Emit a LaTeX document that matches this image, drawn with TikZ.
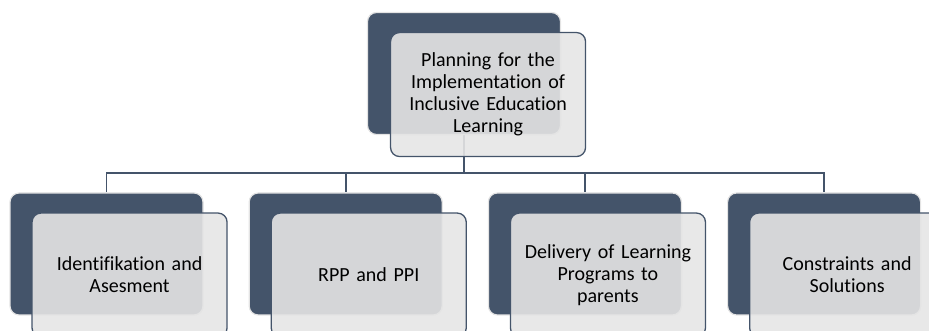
\documentclass[tikz,border=0pt]{standalone}
\usepackage{fontspec}
\setmainfont{Carlito}[Ligatures=NoCommon]
\usepackage{xcolor}
\usepackage{tikz}
\usetikzlibrary{positioning}
\usetikzlibrary{backgrounds}
\definecolor{slate}{HTML}{44546A}
\definecolor{paleframe}{HTML}{E4E4E4}
\definecolor{panel}{HTML}{E5E5E5}
\tikzset{
	backbox/.style={fill=slate, draw=paleframe, line width=1.2pt, rounded corners=9pt,
		minimum width=193pt, minimum height=122pt, inner sep=0pt},
	frontbox/.style={fill=panel, fill opacity=.9, text opacity=1, draw=slate, line width=1.3pt,
		rounded corners=9pt, minimum width=195pt, minimum height=124pt, inner sep=0pt,
		text width=190pt, align=center, font=\fontsize{20}{22}\selectfont},
	link/.style={draw=slate, line width=1.6pt}
}

\begin{document}
\begin{tikzpicture}[x=1pt, y=1pt]
\useasboundingbox (0,0) rectangle (929,331);

% back panels
\node (top) [backbox] at (464,257.5) {};
\node (d1) [backbox] at (106.5,77) {};
\node (d2) [backbox, right=45pt of d1] {};
\node (d3) [backbox, right=45pt of d2] {};
\node (d4) [backbox, right=45pt of d3] {};

% connectors
\coordinate [below=38pt of top] (bus);
\begin{scope}[on background layer]
\foreach \c in {d1,d2,d3,d4}
	\draw [link] (top.south) -- (bus) -| (\c.north);
\end{scope}

% front panels with the texts
\node (ttop) [frontbox, below right=20pt and 23pt of top.north west]
	{Planning for the\\Implementation of\\Inclusive Education\\Learning};
\node (t1) [frontbox, below right=20pt and 22pt of d1.north west]
	{Identifikation and\\Asesment};
\node (t2) [frontbox, below right=20pt and 22pt of d2.north west]
	{RPP and PPI};
\node (t3) [frontbox, below right=20pt and 22pt of d3.north west]
	{Delivery of Learning\\Programs to\\parents};
\node (t4) [frontbox, below right=20pt and 22pt of d4.north west]
	{Constraints and\\Solutions};
\end{tikzpicture}
\end{document}
